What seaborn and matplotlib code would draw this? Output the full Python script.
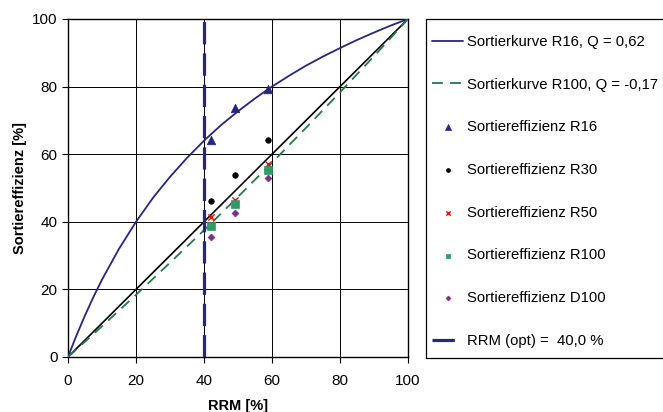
import matplotlib
matplotlib.use("Agg")
import matplotlib.pyplot as plt
import seaborn as sns
import pandas as pd
from matplotlib.patches import Rectangle

# ---- data ----
curve_x = [0, 1, 2.5, 5, 7.5, 10, 15, 20, 25, 30, 35, 40, 45, 50, 55, 60, 65, 70, 75, 80, 85, 90, 95, 100]
curve_r16_y = [0, 2.6, 6.4, 12.3, 17.8, 22.9, 32.0, 40.0, 47.1, 53.3, 58.9, 64.0, 68.6, 72.7, 76.5,
               80.0, 83.2, 86.2, 88.9, 91.4, 93.8, 96.0, 98.1, 100]
curve_r100_x = [0, 10, 20, 30, 40, 50, 60, 70, 80, 90, 100]
curve_r100_y = [0, 9.1, 18.4, 27.9, 37.5, 47.4, 57.5, 67.8, 78.3, 89.0, 100]
diag_x = [0, 100]
diag_y = [0, 100]

rrm = [42.0, 49.2, 58.9]
eff_r16 = [64.2, 73.6, 79.2]
eff_r30 = [46.3, 53.7, 64.2]
eff_r50 = [41.4, 46.5, 57.1]
eff_r100 = [38.7, 45.3, 55.4]
eff_d100 = [35.4, 42.6, 53.1]
rrm_opt = 40.0

ticks = [0, 20, 40, 60, 80, 100]

label_c16 = "Sortierkurve R16, Q = 0,62"
label_c100 = "Sortierkurve R100, Q = -0,17"
label_rrm = "RRM (opt) =  40,0 %"

# ---- style ----
sns.set_theme(style="white")
plt.rcParams["font.family"] = ["Liberation Sans", "DejaVu Sans"]

navy = "#262680"
green = "#237A48"
sq_green = "#339966"
purple = "#7B2D8E"

W, H = 663, 412
fig = plt.figure(figsize=(W / 100, H / 100), dpi=100)
ax = fig.add_axes([68 / W, 1 - 357 / H, 340 / W, 338 / H])

df16 = pd.DataFrame({"x": curve_x, "y": curve_r16_y})
df100 = pd.DataFrame({"x": curve_r100_x, "y": curve_r100_y})
dfd = pd.DataFrame({"x": diag_x, "y": diag_y})

sns.lineplot(data=dfd, x="x", y="y", ax=ax, color="black", lw=1.2, sort=False,
             estimator=None, legend=False, zorder=3)
sns.lineplot(data=df16, x="x", y="y", ax=ax, color=navy, lw=1.3, sort=False,
             estimator=None, label=label_c16, zorder=3)
sns.lineplot(data=df100, x="x", y="y", ax=ax, color=green, lw=1.3, sort=False,
             estimator=None, label=label_c100, zorder=3)
ax.lines[-1].set_dashes((6, 4))

pts = [
    (eff_r16, "Sortiereffizienz R16", "^", navy, 38),
    (eff_r30, "Sortiereffizienz R30", "o", "black", 16),
    (eff_r50, "Sortiereffizienz R50", "x", "red", 20),
    (eff_r100, "Sortiereffizienz R100", "s", sq_green, 26),
    (eff_d100, "Sortiereffizienz D100", "D", purple, 12),
]
for vals, lab, mk, col, s in pts:
    d = pd.DataFrame({"x": rrm, "y": vals})
    if mk == "x":
        sns.scatterplot(data=d, x="x", y="y", ax=ax, marker=mk, color=col, s=s,
                        linewidth=1.0, label=lab, zorder=4)
    else:
        sns.scatterplot(data=d, x="x", y="y", ax=ax, marker=mk, color=col, s=s,
                        edgecolor=col, linewidth=0.5, label=lab, zorder=4)

ax.axvline(rrm_opt, color=navy, lw=2.3, dashes=(7, 2.8), label=label_rrm, zorder=5)

ax.set_xlim(0, 100)
ax.set_ylim(0, 100)
ax.set_xticks(ticks)
ax.set_yticks(ticks)
ax.set_xticklabels([str(t) for t in ticks])
ax.set_yticklabels([str(t) for t in ticks])
ax.grid(True, color="black", lw=0.7)
ax.set_axisbelow(True)
for sp in ax.spines.values():
    sp.set_color("black")
    sp.set_linewidth(1.0)
ax.tick_params(axis="both", which="major", direction="out", length=4.5, width=0.8,
               color="black", labelsize=11, labelcolor="black", pad=3,
               bottom=True, left=True)
ax.tick_params(axis="x", pad=8)
ax.set_xlabel("RRM [%]", fontsize=10.5, fontweight="bold", color="black", labelpad=8)
ax.set_ylabel("Sortiereffizienz [%]", fontsize=10.5, fontweight="bold", color="black", labelpad=4)

handles, labels = ax.get_legend_handles_labels()
if ax.get_legend() is not None:
    ax.get_legend().remove()
order = [label_c16, label_c100, "Sortiereffizienz R16", "Sortiereffizienz R30",
         "Sortiereffizienz R50", "Sortiereffizienz R100", "Sortiereffizienz D100", label_rrm]
hmap = dict(zip(labels, handles))

# legend frame drawn as a rectangle in figure pixels
fig.patches.append(Rectangle((426 / W, 1 - 358 / H), (W + 5 - 426) / W, (358 - 19) / H,
                             transform=fig.transFigure, fill=False, edgecolor="black",
                             lw=0.9, figure=fig))
leg = fig.legend([hmap[l] for l in order], order, loc="upper left",
                 bbox_to_anchor=(432 / W, 1 - 35 / H), bbox_transform=fig.transFigure,
                 borderaxespad=0, frameon=False,
                 fontsize=10.7, labelspacing=1.93, handlelength=2.1, handletextpad=0.28,
                 borderpad=0.0, markerscale=0.7)
for t in leg.get_texts():
    t.set_color("black")

fig.savefig("out.png", dpi=100)
